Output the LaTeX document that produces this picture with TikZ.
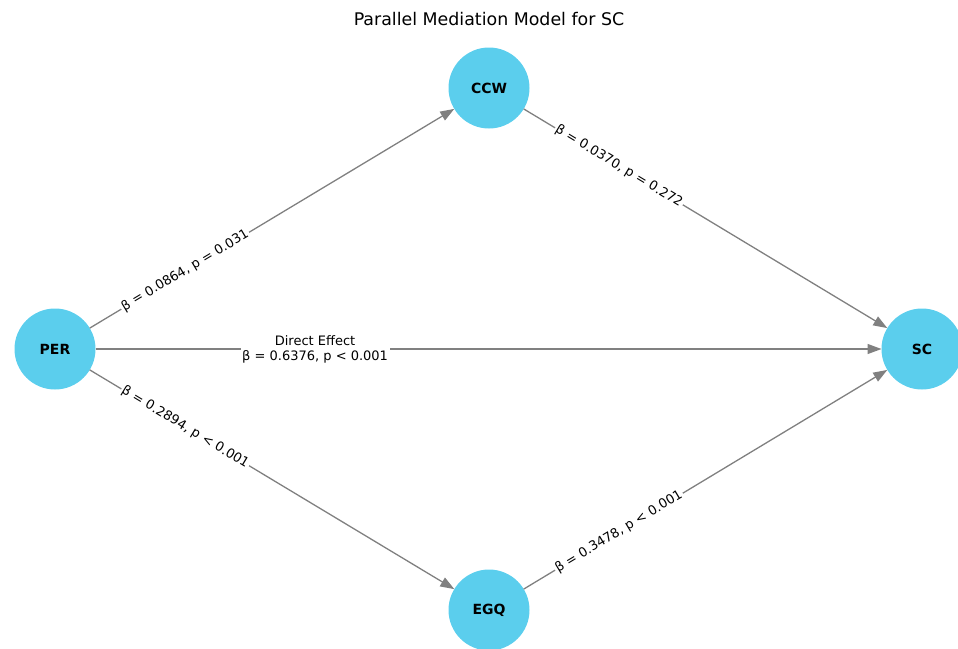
\documentclass[tikz,border=0pt]{standalone}
\usepackage{fontspec}
\setmainfont{DejaVu Sans}
\usetikzlibrary{arrows.meta}
\definecolor{nodeblue}{RGB}{91,206,237}

\begin{document}
\begin{tikzpicture}[x=1pt, y=-1pt,
  var/.style={circle, fill=nodeblue, minimum size=81pt, inner sep=0pt, outer sep=0pt,
    font=\fontsize{14}{16}\selectfont\bfseries},
  link/.style={draw=gray, line width=1.3pt, -{Triangle[length=14pt,width=10pt]}},
  coef/.style={sloped, fill=white, inner sep=1.5pt, font=\fontsize{13}{15}\selectfont}]
  \useasboundingbox (0,0) rectangle (958,648);
  \clip (0,0) rectangle (958,648);

  % Title
  \node[font=\fontsize{17.4}{20}\selectfont] (title) at (489,19) {Parallel Mediation Model for SC};

  % Variables
  \node[var] (per) at (55,349) {PER};
  \node[var] (ccw) at (489,88) {CCW};
  \node[var] (egq) at (489,610) {EGQ};
  \node[var] (sc) at (922,349) {SC};

  % Paths
  \draw[link] (per) -- (ccw);
  \draw[link] (per) -- (egq);
  \draw[link] (ccw) -- (sc);
  \draw[link] (egq) -- (sc);
  \draw[link] (per) -- (sc);

  % Coefficients (30% along each path)
  \path (per.center) -- (ccw.center) node[coef, pos=0.3] (a1) {β = 0.0864, p = 0.031};
  \path (per.center) -- (egq.center) node[coef, pos=0.3] (a2) {β = 0.2894, p < 0.001};
  \path (ccw.center) -- (sc.center) node[coef, pos=0.3] (b1) {β = 0.0370, p = 0.272};
  \path (egq.center) -- (sc.center) node[coef, pos=0.3] (b2) {β = 0.3478, p < 0.001};
  \path (per.center) -- (sc.center) node[coef, pos=0.3, align=center] (c) {Direct Effect\\β = 0.6376, p < 0.001};
\end{tikzpicture}
\end{document}
